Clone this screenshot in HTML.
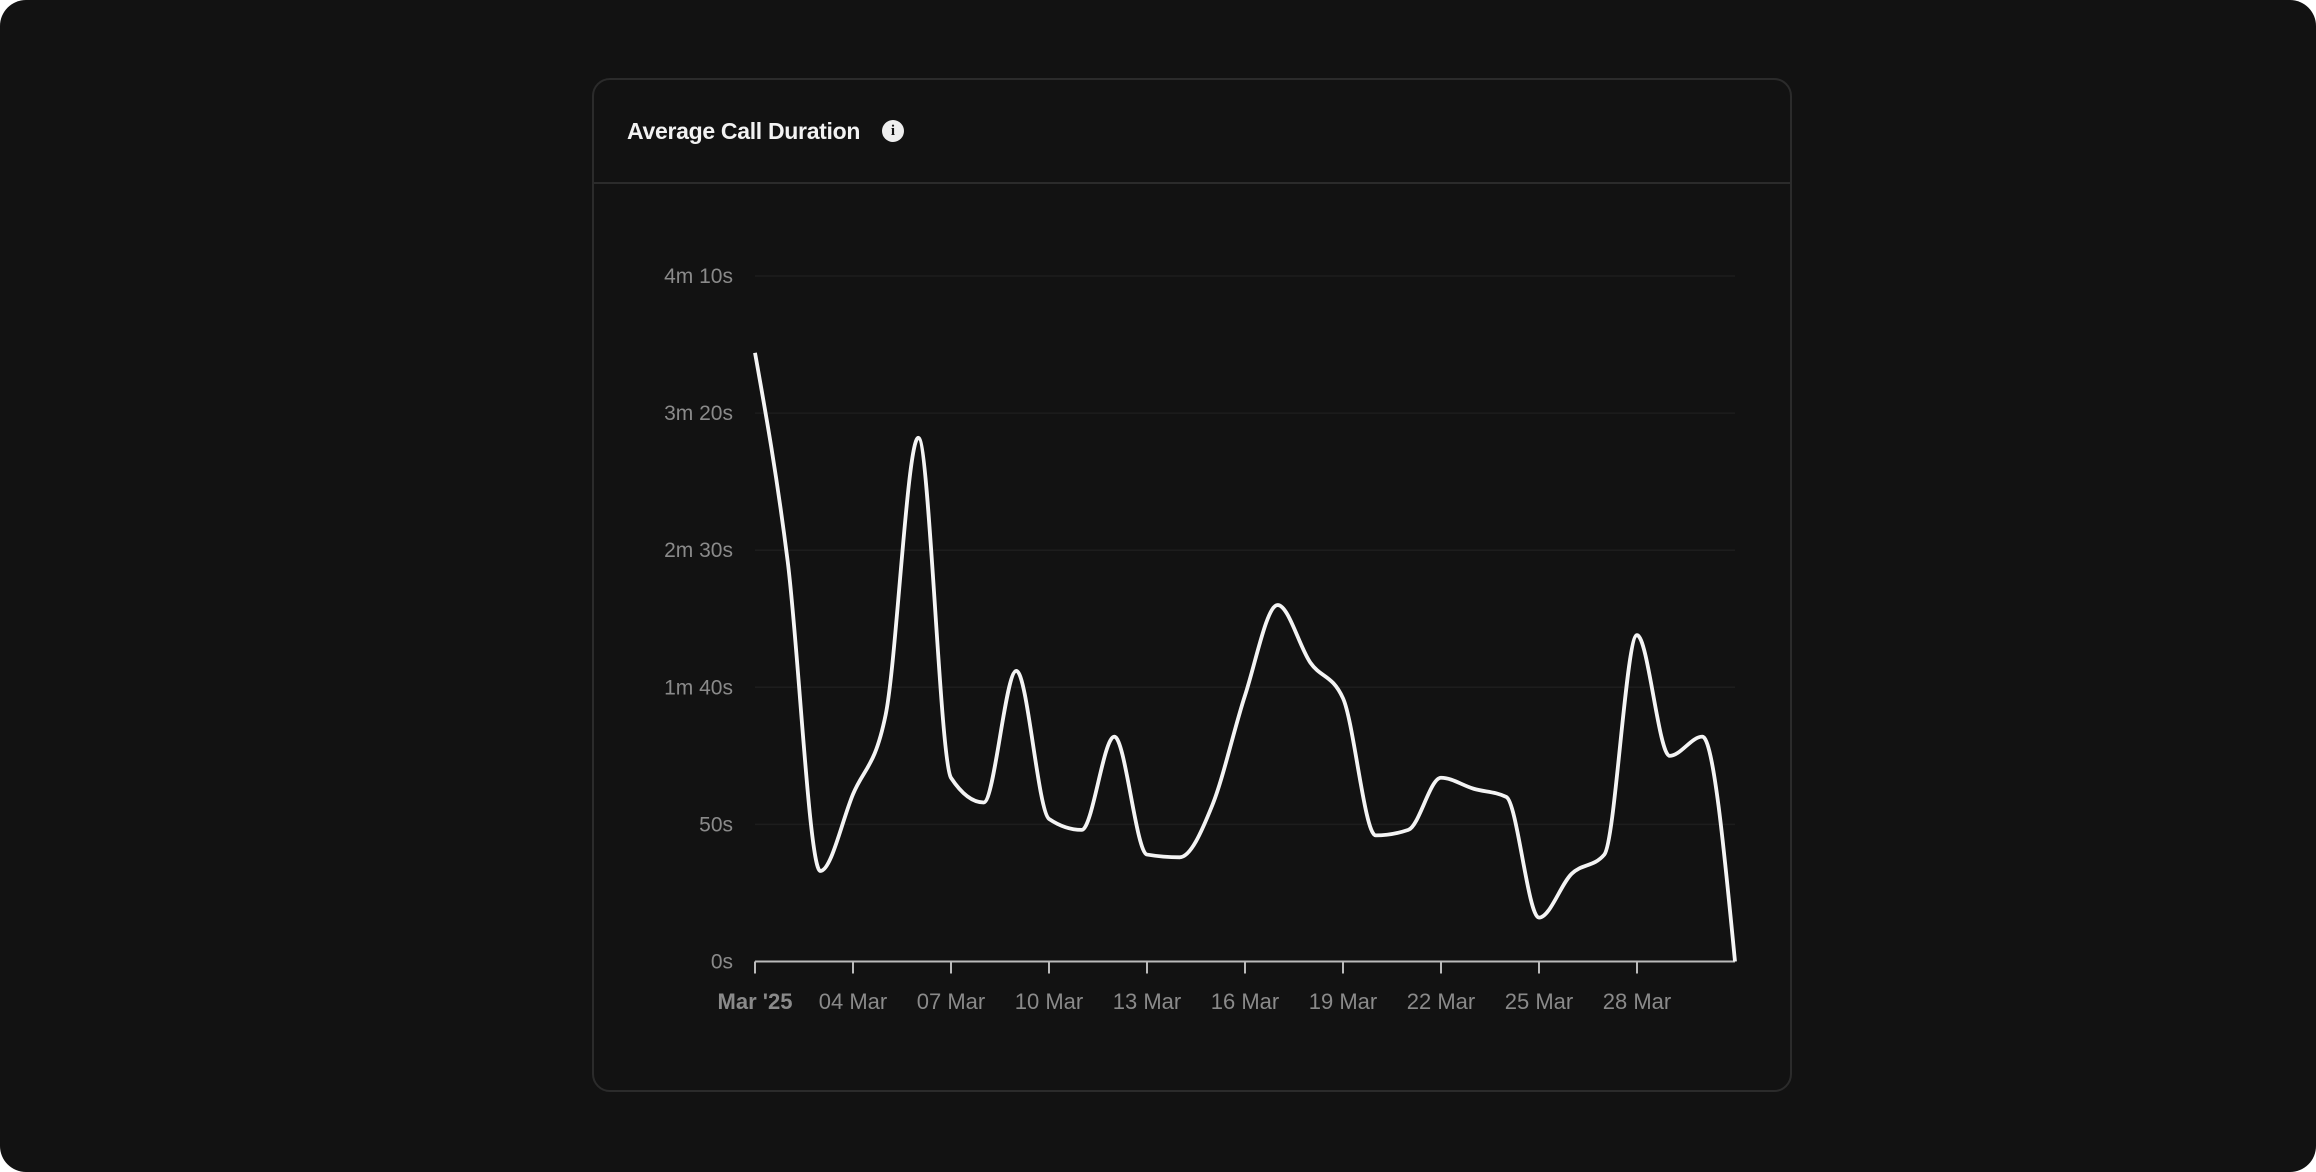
<!DOCTYPE html>
<html><head><meta charset="utf-8"><style>
html,body{margin:0;padding:0;background:#fff;}
#root{width:2316px;height:1172px;background:#121212;border-radius:26px;position:relative;overflow:hidden;font-family:"Liberation Sans",sans-serif;}
#card{position:absolute;left:592px;top:78px;width:1196px;height:1010px;border:2px solid #2b2b2b;border-radius:18px;background:#121212;}
#hdr{height:102px;border-bottom:2px solid #2b2b2b;position:relative;}
#title{position:absolute;left:33px;top:38px;color:#f2f2f2;font-size:23px;font-weight:bold;letter-spacing:-0.3px;}
#info{position:absolute;left:288px;top:40px;width:22px;height:22px;border-radius:50%;background:#eee;color:#121212;font-size:15px;font-weight:bold;text-align:center;line-height:22px;font-family:"Liberation Serif",serif;}
svg{position:absolute;left:0;top:0;}
</style></head><body>
<div id="root">
<div id="card">
<div id="hdr">
<div id="title">Average Call Duration</div>
<div id="info">i</div>
</div></div>
<svg id="chart" width="2316" height="1172"></svg>
</div>
<script>
const days=[];for(let i=1;i<=31;i++)days.push(i);
const values=[222,146,33,61,90,191,67,58,106,52,48,82,39,38,57,97,130,109,96,46,48,67,63,60,16,32,39,119,75,82,0];
const yTicks=[0,50,100,150,200,250];
const yTickLabels=["0s","50s","1m 40s","2m 30s","3m 20s","4m 10s"];
const xTickDays=[1,4,7,10,13,16,19,22,25,28];
const xTickLabels=["Mar '25","04 Mar","07 Mar","10 Mar","13 Mar","16 Mar","19 Mar","22 Mar","25 Mar","28 Mar"];

const X0=755,X1=1735,Y0=961.5,Y1=276;
const xs=d=>X0+(d-1)/(30)*(X1-X0);
const ys=v=>Y0-v/250*(Y0-Y1);
const svg=document.getElementById('chart');const NS='http://www.w3.org/2000/svg';
function mk(t,a){const e=document.createElementNS(NS,t);for(const k in a)e.setAttribute(k,a[k]);svg.appendChild(e);return e;}
yTicks.forEach((v,i)=>{
 if(v>0){const g=mk('line',{x1:X0,x2:X1,y1:ys(v),y2:ys(v),stroke:'#1d1d1d','stroke-width':1.5});
 
 }
 const t=mk('text',{x:733,y:ys(v)+7,'text-anchor':'end',fill:'#8a8a8a','font-size':21,'font-family':'Liberation Sans, sans-serif'});
 t.textContent=yTickLabels[i];
 
 
});
const ax=mk('line',{x1:X0,x2:X1,y1:Y0,y2:Y0,stroke:'#bbbbbb','stroke-width':2});


xTickDays.forEach((d,i)=>{
 const tk=mk('line',{x1:xs(d),x2:xs(d),y1:Y0,y2:Y0+12,stroke:'#bbbbbb','stroke-width':2});
 
 
 const t=mk('text',{x:xs(d),y:1009,'text-anchor':'middle',fill:'#8a8a8a','font-size':22,'font-family':'Liberation Sans, sans-serif','font-weight':i==0?'bold':'normal'});
 t.textContent=xTickLabels[i];
 
 
});
// d3 monotoneX
const P=days.map((d,i)=>[xs(d),ys(values[i])]);const n=P.length;
const s=[];for(let i=0;i<n-1;i++)s.push((P[i+1][1]-P[i][1])/(P[i+1][0]-P[i][0]));
const m=new Array(n).fill(0);
for(let i=1;i<n-1;i++){const s0=s[i-1],s1=s[i],p=(s0+s1)/2;
 m[i]=(Math.sign(s0)+Math.sign(s1))*Math.min(Math.abs(s0),Math.abs(s1),0.5*Math.abs(p));}
m[0]=(3*s[0]-m[1])/2; m[n-1]=(3*s[n-2]-m[n-2])/2;
let d='M'+P[0][0]+','+P[0][1];
for(let i=0;i<n-1;i++){const h=(P[i+1][0]-P[i][0])/3;
 d+=` C${P[i][0]+h},${P[i][1]+m[i]*h} ${P[i+1][0]-h},${P[i+1][1]-m[i+1]*h} ${P[i+1][0]},${P[i+1][1]}`;}
const line=mk('path',{d:d,fill:'none',stroke:'#f4f4f4','stroke-width':3.8,'stroke-linejoin':'round'});


</script>
</body></html>
